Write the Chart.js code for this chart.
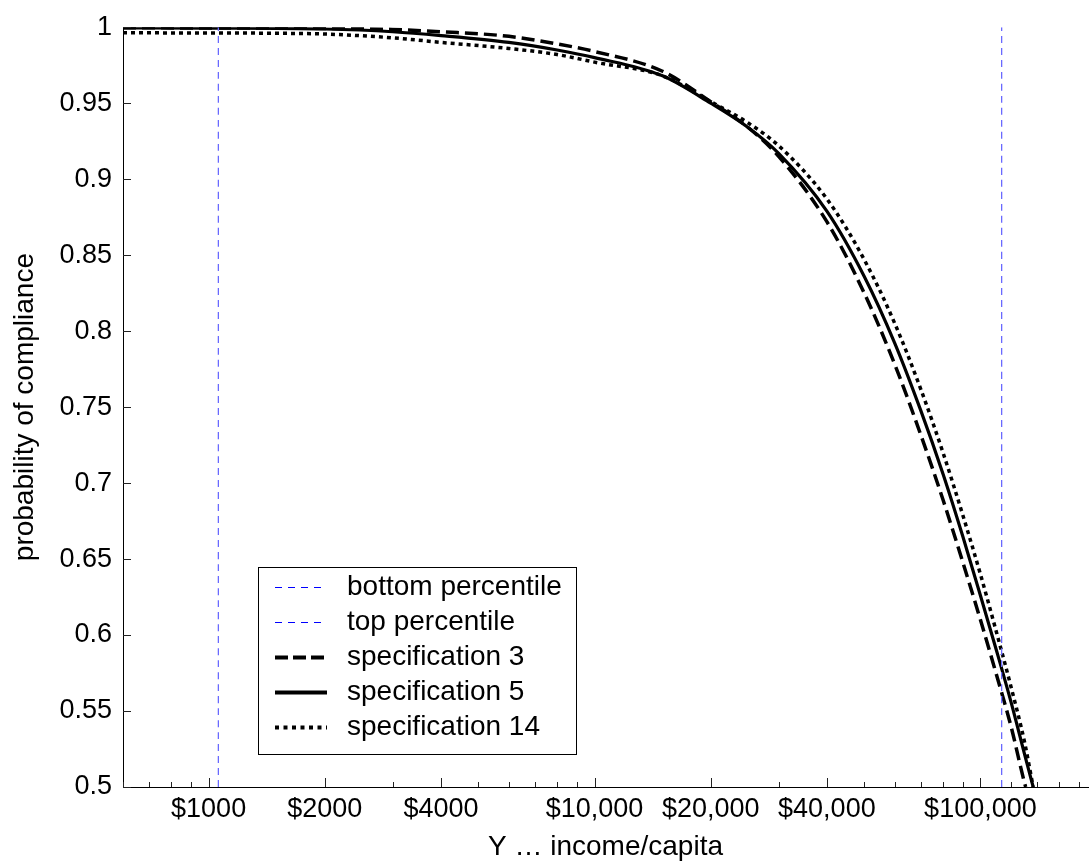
<!DOCTYPE html>
<html><head><meta charset="utf-8">
<script src="https://cdn.jsdelivr.net/npm/chart.js@4/dist/chart.umd.min.js"></script>
<style>html,body{margin:0;padding:0;background:#fff}canvas{display:block}</style>
</head><body>
<canvas id="c" width="1091" height="867"></canvas>
<script>
// ---- data ----
const incomeSpec3 = [600,1000,2000,3000,4000,6000,8000,10000,15000,20000,25000,30000,40000,50000,60000,70000,80000,90000,100000,110000,120000,130000,131000];
const spec3       = [0.9996,0.9995,0.9992,0.9985,0.997,0.994,0.989,0.984,0.971,0.951,0.934,0.915,0.872,0.825,0.778,0.732,0.689,0.648,0.610,0.574,0.540,0.503,0.5];

const incomeSpec5 = [600,1000,2000,3000,4000,6000,8000,10000,15000,20000,25000,30000,40000,50000,60000,70000,80000,90000,100000,110000,120000,130000,137000];
const spec5       = [0.9995,0.9994,0.9988,0.997,0.9945,0.990,0.985,0.980,0.968,0.950,0.934,0.917,0.879,0.836,0.792,0.748,0.706,0.665,0.626,0.590,0.556,0.522,0.5];

const incomeSpec14 = [600,1000,1500,2000,3000,4000,6000,8000,10000,15000,20000,25000,30000,40000,50000,60000,70000,80000,90000,100000,110000,120000,130000,137000];
const spec14       = [0.9963,0.9962,0.996,0.9955,0.993,0.990,0.986,0.982,0.977,0.968,0.951,0.937,0.922,0.887,0.847,0.805,0.762,0.720,0.679,0.640,0.602,0.566,0.530,0.5];

const bottomPercentile = 1060;
const topPercentile = 113500;

const xMin = 600, xMax = 190000;
const xLabeledTicks = [1000,2000,4000,10000,20000,40000,100000];
const xLabeledText  = ['$1000','$2000','$4000','$10,000','$20,000','$40,000','$100,000'];
const xMinorTicks = [600,700,800,900,3000,5000,6000,7000,8000,9000,30000,50000,60000,70000,80000,90000,120000,140000,160000,180000];

const yTicks    = [0.5,0.55,0.6,0.65,0.7,0.75,0.8,0.85,0.9,0.95,1];
const yTickText = ['0.5','0.55','0.6','0.65','0.7','0.75','0.8','0.85','0.9','0.95','1'];

// ---- chart ----
const FONT = "'Liberation Sans', Arial, Helvetica, sans-serif";
const toXY = (xs, ys) => xs.map((x, i) => ({x: x, y: ys[i]}));
const vline = (v) => [{x: v, y: yTicks[0]}, {x: v, y: yTicks[yTicks.length - 1]}];

const innerTicks = {
  id: 'innerTicks',
  afterDatasetsDraw(chart) {
    const {ctx, chartArea, scales: {x, y}} = chart;
    ctx.save();
    ctx.strokeStyle = '#222';
    ctx.lineWidth = 1;
    x.ticks.forEach(t => {
      const px = Math.round(x.getPixelForValue(t.value)) + 0.5;
      const len = t.major ? 9 : 5;
      ctx.beginPath(); ctx.moveTo(px, chartArea.bottom); ctx.lineTo(px, chartArea.bottom - len); ctx.stroke();
    });
    y.ticks.forEach(t => {
      const py = Math.round(y.getPixelForValue(t.value)) + 0.5;
      ctx.beginPath(); ctx.moveTo(chartArea.left, py); ctx.lineTo(chartArea.left + 8, py); ctx.stroke();
    });
    ctx.restore();
  }
};

const boxLegend = {
  id: 'boxLegend',
  afterDraw(chart) {
    const {ctx, chartArea} = chart;
    const ds = chart.data.datasets;
    const left = chartArea.left + 135, top = chartArea.top + 540;
    const rowH = 35, firstRow = 20, width = 318;
    const height = firstRow + rowH * (ds.length - 1) + 27;
    ctx.save();
    ctx.fillStyle = '#fff';
    ctx.fillRect(left, top, width, height);
    ctx.strokeStyle = '#000';
    ctx.lineWidth = 1;
    ctx.strokeRect(Math.round(left) + 0.5, Math.round(top) + 0.5, width, height);
    ds.forEach((d, i) => {
      const cy = Math.round(top + firstRow + i * rowH) + 0.5;
      ctx.beginPath();
      ctx.strokeStyle = d.legendColor || d.borderColor;
      ctx.lineWidth = d.legendWidth || d.borderWidth;
      ctx.setLineDash(d.legendDash || d.borderDash || []);
      ctx.moveTo(left + 17, cy); ctx.lineTo(left + 69, cy); ctx.stroke();
      ctx.setLineDash([]);
      ctx.fillStyle = '#000';
      ctx.font = '28px ' + FONT;
      ctx.textBaseline = 'middle';
      ctx.textAlign = 'left';
      ctx.fillText(d.label, left + 89, cy);
    });
    ctx.restore();
  }
};

new Chart(document.getElementById('c'), {
  type: 'line',
  data: {
    datasets: [
      {label: 'bottom percentile', data: vline(bottomPercentile), borderColor: 'rgb(105,105,255)', borderWidth: 1.3, borderDash: [7,5], legendColor: '#0000ff', legendWidth: 1.2, legendDash: [7,6]},
      {label: 'top percentile', data: vline(topPercentile), borderColor: 'rgb(105,105,255)', borderWidth: 1.3, borderDash: [7,5], legendColor: '#0000ff', legendWidth: 1.2, legendDash: [7,6]},
      {label: 'specification 3', data: toXY(incomeSpec3, spec3), borderColor: '#000', borderWidth: 3.5, borderDash: [13,6], legendWidth: 4, legendDash: [13,5]},
      {label: 'specification 5', data: toXY(incomeSpec5, spec5), borderColor: '#000', borderWidth: 3.2, borderDash: [], legendWidth: 4},
      {label: 'specification 14', data: toXY(incomeSpec14, spec14), borderColor: '#000', borderWidth: 3.5, borderDash: [4,4], legendWidth: 4, legendDash: [4,4.5]}
    ]
  },
  options: {
    responsive: false,
    animation: false,
    devicePixelRatio: 1,
    layout: {padding: {top: 20, right: 3, left: 0, bottom: 0}},
    elements: {point: {radius: 0}, line: {cubicInterpolationMode: 'monotone', fill: false}},
    plugins: {legend: {display: false}, tooltip: {enabled: false}},
    scales: {
      x: {
        type: 'logarithmic', min: xMin, max: xMax,
        afterBuildTicks: ax => {
          const all = xLabeledTicks.concat(xMinorTicks).sort((a, b) => a - b);
          ax.ticks = all.map(v => ({value: v, major: xLabeledTicks.includes(v)}));
        },
        ticks: {
          autoSkip: false, maxRotation: 0, minRotation: 0, padding: 6, color: '#000',
          font: {family: FONT, size: 27},
          callback: (v) => { const i = xLabeledTicks.indexOf(v); return i >= 0 ? xLabeledText[i] : ''; }
        },
        grid: {display: true, drawOnChartArea: false, drawTicks: false},
        border: {display: true, color: '#000', width: 1},
        title: {display: true, text: 'Y … income/capita', color: '#000', font: {family: FONT, size: 28}, padding: {top: 0, bottom: 3}},
        afterFit: s => { s.height = 80; }
      },
      y: {
        type: 'linear', min: 0.5, max: 1,
        afterBuildTicks: ax => { ax.ticks = yTicks.map(v => ({value: v})); },
        ticks: {
          padding: 11, color: '#000', font: {family: FONT, size: 27},
          callback: (v) => { const i = yTicks.findIndex(t => Math.abs(t - v) < 1e-9); return i >= 0 ? yTickText[i] : ''; }
        },
        grid: {display: true, drawOnChartArea: false, drawTicks: false},
        border: {display: true, color: '#000', width: 1},
        title: {display: true, text: 'probability of compliance', color: '#000', font: {family: FONT, size: 28}, padding: {top: 8, bottom: 0}},
        afterFit: s => { s.width = 123; }
      }
    }
  },
  plugins: [innerTicks, boxLegend]
});
</script>
</body></html>
